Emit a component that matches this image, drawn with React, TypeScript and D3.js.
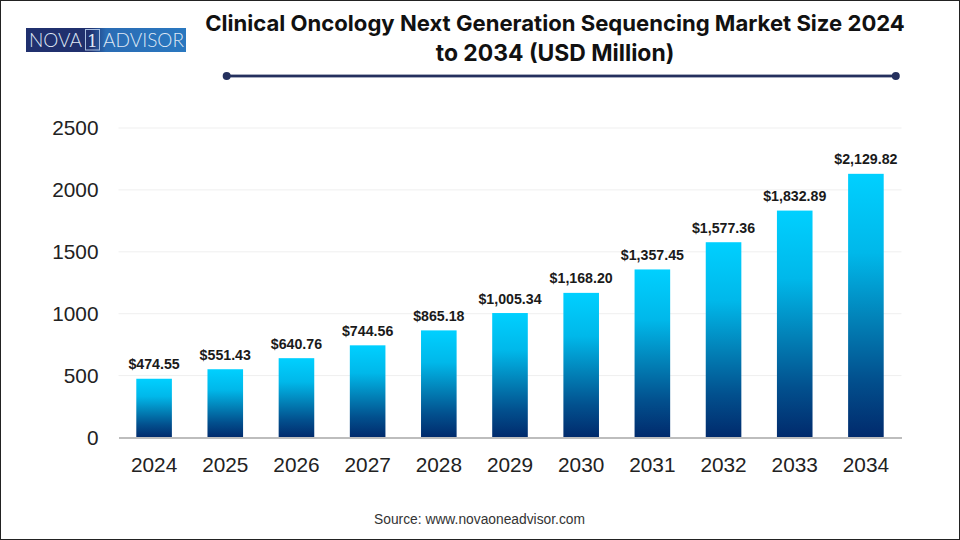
import React, { useRef, useEffect } from "react";
import * as d3 from "d3";

const years = ["2024", "2025", "2026", "2027", "2028", "2029", "2030", "2031", "2032", "2033", "2034"];
const marketSize = [474.55, 551.43, 640.76, 744.56, 865.18, 1005.34, 1168.2, 1357.45, 1577.36, 1832.89, 2129.82];
const yTicks = [0, 500, 1000, 1500, 2000, 2500];
const titleLines = [
  "Clinical Oncology Next Generation Sequencing Market Size 2024",
  "to 2034 (USD Million)",
];

const width = 960;
const height = 540;
const margin = { top: 128, right: 58.5, bottom: 102.5, left: 118.5 };
const font = "Inter, 'Liberation Sans', sans-serif";
const labelFont = "'Liberation Sans', Arial, sans-serif";

const App: React.FC = () => {
  const chartRef = useRef<SVGSVGElement | null>(null);

  useEffect(() => {
    if (!chartRef.current) return;
    const svg = d3.select(chartRef.current);
    svg.selectAll("*").remove();

    svg.attr("viewBox", `0 0 ${width} ${height}`);

    const x = d3
      .scaleBand()
      .domain(years)
      .range([margin.left, width - margin.right])
      .paddingInner(0.5)
      .paddingOuter(0.25);

    const y = d3
      .scaleLinear()
      .domain([0, 2500])
      .range([height - margin.bottom, margin.top]);

    const defs = svg.append("defs");
    const grad = defs
      .append("linearGradient")
      .attr("id", "barFill")
      .attr("x1", 0)
      .attr("y1", 0)
      .attr("x2", 0)
      .attr("y2", 1);
    grad.append("stop").attr("offset", "0%").attr("stop-color", "#00d0ff");
    grad.append("stop").attr("offset", "30%").attr("stop-color", "#00b8ea");
    grad.append("stop").attr("offset", "55%").attr("stop-color", "#0282b8");
    grad.append("stop").attr("offset", "78%").attr("stop-color", "#02508e");
    grad.append("stop").attr("offset", "100%").attr("stop-color", "#012a6c");

    // white page with a thin dark edge all round
    svg
      .append("rect")
      .attr("x", 0.5)
      .attr("y", 0.5)
      .attr("width", width - 1)
      .attr("height", height - 1)
      .attr("fill", "#fff")
      .attr("stroke", "#222")
      .attr("stroke-width", 1);

    // logo
    const logo = svg.append("g");
    const logoGrad = defs.append("linearGradient").attr("id", "logoFill");
    logoGrad.append("stop").attr("offset", "0%").attr("stop-color", "#20306e");
    logoGrad.append("stop").attr("offset", "40%").attr("stop-color", "#20306e");
    logoGrad.append("stop").attr("offset", "50%").attr("stop-color", "#2a6cb4");
    logoGrad.append("stop").attr("offset", "100%").attr("stop-color", "#2a78c0");
    logo.append("rect").attr("x", 26).attr("y", 28).attr("width", 160).attr("height", 24).attr("fill", "url(#logoFill)");
    logo.append("text").attr("x", 29).attr("y", 47).attr("font-family", "Lato, sans-serif").attr("font-weight", 300).attr("font-size", 20).attr("fill", "#dfe8f5").attr("textLength", 53).attr("lengthAdjust", "spacingAndGlyphs").text("NOVA");
    logo.append("rect").attr("x", 85.5).attr("y", 29.5).attr("width", 14).attr("height", 20.5).attr("fill", "none").attr("stroke", "#a9bfe0").attr("stroke-width", 1);
    logo.append("text").attr("x", 92.5).attr("y", 47).attr("text-anchor", "middle").attr("font-family", "'DejaVu Serif', serif").attr("font-size", 17).attr("fill", "#dfe8f5").text("1");
    logo.append("text").attr("x", 103).attr("y", 47).attr("font-family", "Lato, sans-serif").attr("font-weight", 300).attr("font-size", 20).attr("fill", "#dfe8f5").attr("textLength", 81).attr("lengthAdjust", "spacingAndGlyphs").text("ADVISOR");

    // title
    svg
      .append("g")
      .selectAll("text")
      .data(titleLines)
      .enter()
      .append("text")
      .attr("x", 555)
      .attr("y", (_, i) => 31 + i * 30)
      .attr("text-anchor", "middle")
      .attr("font-family", font)
      .attr("font-size", (_, i) => (i ? 22.9 : 22.1))
      .attr("font-weight", 700)
      .attr("fill", "#111")
      .text((d) => d);

    // rule under the title
    const rule = svg.append("g").attr("fill", "#24305e");
    rule.append("rect").attr("x", 226).attr("y", 74.6).attr("width", 670).attr("height", 2.8);
    rule.append("circle").attr("cx", 226.7).attr("cy", 76).attr("r", 4);
    rule.append("circle").attr("cx", 895.8).attr("cy", 76).attr("r", 4);

    // gridlines
    svg
      .append("g")
      .selectAll("line")
      .data(yTicks.slice(1))
      .enter()
      .append("line")
      .attr("x1", margin.left)
      .attr("x2", width - margin.right)
      .attr("y1", (d) => y(d))
      .attr("y2", (d) => y(d))
      .attr("stroke", "#efefef")
      .attr("stroke-width", 1);

    // bars
    svg
      .append("g")
      .selectAll("rect")
      .data(marketSize)
      .enter()
      .append("rect")
      .attr("x", (_, i) => x(years[i]) || 0)
      .attr("y", (d) => y(d))
      .attr("width", x.bandwidth())
      .attr("height", (d) => y(0) - y(d))
      .attr("fill", "url(#barFill)");

    // value labels
    svg
      .append("g")
      .selectAll("text")
      .data(marketSize)
      .enter()
      .append("text")
      .attr("x", (_, i) => (x(years[i]) || 0) + x.bandwidth() / 2)
      .attr("y", (d) => y(d) - 9.5)
      .attr("text-anchor", "middle")
      .attr("font-family", labelFont)
      .attr("font-size", 14.2)
      .attr("font-weight", 700)
      .attr("fill", "#1a1a1a")
      .text((d) => "$" + d3.format(",.2f")(d));

    // x axis
    const xAxis = svg
      .append("g")
      .attr("transform", `translate(0,${y(0)})`)
      .call(d3.axisBottom(x).tickSize(0).tickPadding(19.5));
    xAxis.select(".domain").attr("stroke", "#bdbdbd").attr("stroke-width", 2);
    xAxis.selectAll("text").attr("font-family", labelFont).attr("font-size", 20.8).attr("fill", "#222");

    // y axis
    const yAxis = svg
      .append("g")
      .attr("transform", `translate(${margin.left},0)`)
      .call(d3.axisLeft(y).tickValues(yTicks).tickFormat(d3.format("d")).tickSize(0).tickPadding(20));
    yAxis.select(".domain").remove();
    yAxis.selectAll("text").attr("font-family", labelFont).attr("font-size", 20.8).attr("fill", "#222");

    // source
    svg
      .append("text")
      .attr("x", 479.5)
      .attr("y", 523.5)
      .attr("text-anchor", "middle")
      .attr("font-family", labelFont)
      .attr("font-size", 13.8)
      .attr("fill", "#333")
      .text("Source: www.novaoneadvisor.com");
  }, []);

  return <svg ref={chartRef} width={width} height={height} style={{ position: "absolute", left: 0, top: 0 }} />;
};

export default App;
